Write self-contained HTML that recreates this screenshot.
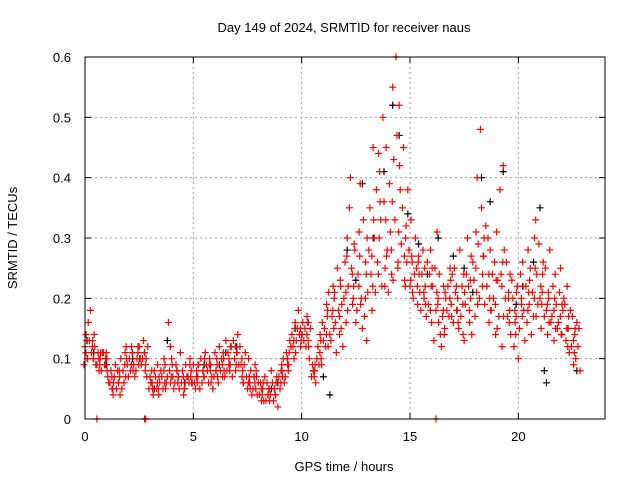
<!DOCTYPE html>
<html><head><meta charset="utf-8"><style>
body{margin:0;background:#fff}
svg{display:block;font-family:"Liberation Sans",sans-serif;font-size:13px}
</style></head><body>
<svg id="c" width="640" height="480" viewBox="0 0 640 480">
<text x="344" y="32" text-anchor="middle">Day 149 of 2024, SRMTID for receiver naus</text>
<text x="344" y="471" text-anchor="middle">GPS time / hours</text>
<text transform="translate(17,238) rotate(-90)" text-anchor="middle">SRMTID / TECUs</text>
<g id="grid"></g>
<g id="axes"></g>
<g id="black"></g>
<g id="red"></g>
<rect x="85" y="57" width="520" height="362" fill="none" stroke="#000" stroke-width="1"/>
</svg>
<script>
const xTicks=[0,5,10,15,20];
const yTicks=[0,0.1,0.2,0.3,0.4,0.5,0.6];
const yTickLabels=["0","0.1","0.2","0.3","0.4","0.5","0.6"];
const redRows=[
[0.0,.09,.12,.14],[0.15,.10,.16,.13],[0.3,.18,.11,.13],[0.45,.10,.12,.09],[0.6,.09,.11,.08],[0.75,.10,.08,.11],[0.9,.11,.09,.10],[1.05,.10,.07,.06],[1.2,.06,.08,.05],[1.35,.04,.07,.09],[1.5,.05,.08,.06],[1.65,.07,.10,.05],[1.8,.08,.06,.11],[1.95,.12,.09,.07],[2.1,.10,.08,.12],[2.25,.11,.09,.07],[2.4,.08,.10,.12],[2.55,.12,.10,.09],[2.7,.10,.13,.11],[2.85,.09,.07,.12],[3.0,.05,.07,.06],[3.15,.06,.04,.08],[3.3,.07,.05,.09],[3.45,.04,.06,.08],[3.6,.07,.05,.10],[3.75,.09,.06,.07],[3.9,.16,.08,.06],[4.05,.10,.07,.05],[4.2,.06,.09,.08],[4.35,.07,.05,.11],[4.5,.06,.08,.04],[4.65,.05,.09,.07],[4.8,.07,.06,.10],[4.95,.08,.06,.09],[5.1,.06,.05,.08],[5.25,.07,.09,.05],[5.4,.10,.06,.08],[5.55,.07,.11,.09],[5.7,.08,.06,.10],[5.85,.09,.07,.05],[6.0,.07,.11,.08],[6.15,.09,.06,.12],[6.3,.08,.10,.07],[6.45,.10,.07,.13],[6.6,.08,.11,.09],[6.75,.09,.12,.07],[6.9,.13,.10,.08],[7.05,.11,.14,.09],[7.2,.12,.09,.07],[7.35,.06,.09,.11],[7.5,.07,.05,.10],[7.65,.06,.08,.04],[7.8,.05,.07,.09],[7.95,.08,.04,.06],[8.1,.04,.06,.03],[8.25,.05,.03,.07],[8.4,.03,.06,.04],[8.55,.05,.04,.08],[8.7,.06,.03,.05],[8.85,.04,.07,.02],[9.0,.07,.05,.08],[9.15,.08,.10,.06],[9.3,.07,.11,.09],[9.45,.09,.13,.12],[9.6,.14,.12,.10],[9.75,.16,.13,.15],[9.9,.18,.14,.12],[10.05,.14,.16,.13],[10.2,.15,.12,.17],[10.35,.13,.10,.15],[10.5,.07,.09,.08],[10.65,.08,.06,.10],[10.8,.12,.09,.14],[10.95,.10,.16,.13],[11.1,.15,.12,.19],[11.25,.18,.21,.14],[11.4,.13,.17,.22],[11.55,.20,.16,.11],[11.7,.25,.18,.14],[11.85,.22,.19,.12],[12.0,.20,.26,.16],[12.15,.30,.22,.35],[12.3,.40,.25,.19],[12.45,.22,.28,.16],[12.6,.18,.24,.31],[12.75,.39,.20,.15],[12.9,.33,.17,.26],[13.05,.13,.21,.28],[13.2,.35,.24,.18],[13.35,.45,.30,.21],[13.5,.38,.26,.44],[13.65,.41,.33,.22],[13.8,.50,.36,.25],[13.95,.45,.28,.21],[14.1,.39,.31,.24],[14.25,.55,.43,.33],[14.4,.60,.47,.26],[14.55,.52,.38,.29],[14.7,.35,.45,.23],[14.85,.30,.26,.38],[15.0,.28,.22,.33],[15.15,.26,.20,.24],[15.3,.30,.25,.19],[15.45,.27,.21,.18],[15.6,.24,.28,.20],[15.75,.22,.17,.26],[15.9,.19,.24,.28],[16.05,.16,.22,.13],[16.2,.25,.18,.31],[16.35,.20,.24,.14],[16.5,.12,.17,.22],[16.65,.15,.20,.18],[16.8,.22,.17,.25],[16.95,.19,.24,.16],[17.1,.25,.21,.18],[17.25,.20,.15,.28],[17.4,.17,.22,.14],[17.55,.13,.19,.24],[17.7,.30,.22,.16],[17.85,.20,.14,.26],[18.0,.23,.17,.31],[18.15,.40,.29,.20],[18.3,.48,.35,.24],[18.45,.27,.19,.32],[18.6,.22,.30,.16],[18.75,.28,.18,.24],[18.9,.20,.26,.14],[19.05,.31,.23,.17],[19.2,.38,.24,.12],[19.35,.42,.28,.20],[19.5,.26,.17,.21],[19.65,.18,.14,.23],[19.8,.20,.12,.16],[19.95,.17,.22,.10],[20.1,.15,.24,.19],[20.25,.26,.18,.13],[20.4,.22,.16,.28],[20.55,.19,.25,.14],[20.7,.21,.17,.30],[20.85,.33,.24,.19],[21.0,.29,.20,.15],[21.15,.21,.26,.17],[21.3,.25,.18,.14],[21.45,.20,.28,.16],[21.6,.17,.22,.13],[21.75,.24,.19,.15],[21.9,.16,.21,.25],[22.05,.14,.18,.20],[22.2,.19,.13,.22],[22.35,.15,.11,.18],[22.5,.12,.17,.09],[22.65,.14,.10,.16],[22.8,.12,.15,.08]];
const redRows2=[
[0.08,.11,.13,.10],[0.38,.12,.10,.14],[0.68,.10,.09,.11],[0.98,.09,.11,.08],[1.28,.07,.05,.06],[1.58,.06,.08,.04],[1.88,.09,.07,.10],[2.18,.09,.11,.08],[2.48,.11,.09,.10],[2.78,.11,.08,.10],[3.08,.06,.08,.05],[3.38,.06,.05,.07],[3.68,.08,.06,.05],[3.98,.12,.07,.09],[4.28,.08,.06,.07],[4.58,.07,.05,.06],[4.88,.09,.07,.06],[5.18,.07,.06,.09],[5.48,.08,.07,.10],[5.78,.09,.08,.06],[6.08,.08,.10,.07],[6.38,.09,.11,.08],[6.68,.10,.08,.12],[6.98,.12,.09,.11],[7.28,.10,.08,.06],[7.58,.06,.07,.05],[7.88,.06,.05,.07],[8.18,.05,.04,.06],[8.48,.04,.05,.03],[8.78,.05,.04,.06],[9.08,.06,.09,.07],[9.38,.10,.08,.11],[9.68,.13,.15,.11],[9.98,.15,.13,.14],[10.28,.14,.16,.12],[10.58,.08,.07,.09],[10.88,.11,.13,.09],[11.18,.14,.17,.12],[11.48,.18,.15,.21],[11.78,.17,.23,.15],[12.08,.21,.27,.18],[12.38,.24,.20,.29],[12.68,.22,.27,.19],[12.98,.20,.24,.30],[13.28,.27,.22,.33],[13.58,.24,.30,.36],[13.88,.22,.33,.27],[14.18,.28,.36,.23],[14.48,.25,.31,.42],[14.78,.27,.22,.32],[15.08,.23,.27,.21],[15.38,.22,.26,.24],[15.68,.21,.25,.19],[15.98,.18,.22,.25],[16.28,.21,.19,.16],[16.58,.18,.14,.21],[16.88,.20,.23,.17],[17.18,.22,.18,.16],[17.48,.19,.24,.21],[17.78,.18,.23,.27],[18.08,.25,.21,.19],[18.38,.22,.27,.30],[18.68,.24,.20,.18],[18.98,.19,.23,.15],[19.28,.22,.26,.17],[19.58,.20,.16,.24],[19.88,.18,.14,.21],[20.18,.20,.17,.22],[20.48,.18,.21,.23],[20.78,.20,.25,.17],[21.08,.22,.19,.24],[21.38,.19,.21,.16],[21.68,.18,.20,.15],[21.98,.17,.14,.19],[22.28,.15,.12,.17],[22.58,.13,.11,.15]];
const redZero=[[0.55,0],[2.75,0],[2.8,0],[16.2,0]];
const blackPts=[[0.1,.13],[0.4,.11],[1.0,.09],[2.2,.10],[3.8,.13],[4.6,.06],[5.5,.09],[6.5,.11],[7.0,.12],[7.8,.07],[8.6,.05],[9.7,.15],[10.3,.16],[11.0,.07],[11.3,.04],[12.1,.28],[12.8,.39],[13.3,.30],[13.8,.41],[14.2,.52],[14.5,.47],[14.9,.34],[15.4,.29],[16.3,.30],[17.0,.27],[17.5,.25],[18.3,.40],[18.7,.36],[19.3,.41],[19.9,.19],[20.7,.26],[21.0,.35],[21.2,.08],[21.3,.06],[22.0,.14],[22.7,.08],[3.2,.05],[6.2,.09],[8.9,.06],[12.5,.23],[15.8,.24],[17.9,.21],[20.2,.22]];
const NS="http://www.w3.org/2000/svg";
const X=t=>85+t*(520/24);
const Y=v=>419-v*(362/0.6);
function mk(tag,attrs,parent){const e=document.createElementNS(NS,tag);for(const k in attrs)e.setAttribute(k,attrs[k]);parent.appendChild(e);return e;}
const grid=document.getElementById('grid'),axes=document.getElementById('axes');
xTicks.forEach(t=>{const x=X(t);
 if(t>0){const g=mk('line',{x1:x,x2:x,y1:57,y2:419,stroke:'#a0a0a0','stroke-dasharray':'2,3'},grid);
 
 }
 mk('line',{x1:x,x2:x,y1:419,y2:413,stroke:'#000'},axes);mk('line',{x1:x,x2:x,y1:57,y2:63,stroke:'#000'},axes);
 const l=mk('text',{x:x,y:441,'text-anchor':'middle'},axes);l.textContent=t;
 
 });
yTicks.forEach((v,i)=>{const y=Y(v);
 if(v>0&&v<0.6){const g=mk('line',{x1:85,x2:605,y1:y,y2:y,stroke:'#a0a0a0','stroke-dasharray':'2,3'},grid);
 
 }
 mk('line',{x1:85,x2:91,y1:y,y2:y,stroke:'#000'},axes);mk('line',{x1:605,x2:599,y1:y,y2:y,stroke:'#000'},axes);
 const l=mk('text',{x:71,y:y+5,'text-anchor':'end'},axes);l.textContent=yTickLabels[i];
 
 });
function plus(g,t,v,col){const x=X(t),y=Y(v);
 const p=mk('path',{d:`M${x-3.5},${y}h7M${x},${y-3.5}v7`,stroke:col,'stroke-width':1.2,fill:'none'},g);
 
 }
const bg=document.getElementById('black'),rg=document.getElementById('red');
blackPts.forEach(p=>plus(bg,p[0],p[1],'#000'));
redRows.forEach(r=>{for(let k=1;k<r.length;k++)plus(rg,r[0]+(k-2)*0.05,r[k],'#f00');});
redRows2.forEach(r=>{for(let k=1;k<r.length;k++)plus(rg,r[0]+(k-2)*0.04,r[k],'#f00');});
redZero.forEach(p=>plus(rg,p[0],p[1],'#f00'));
</script>
</body></html>
